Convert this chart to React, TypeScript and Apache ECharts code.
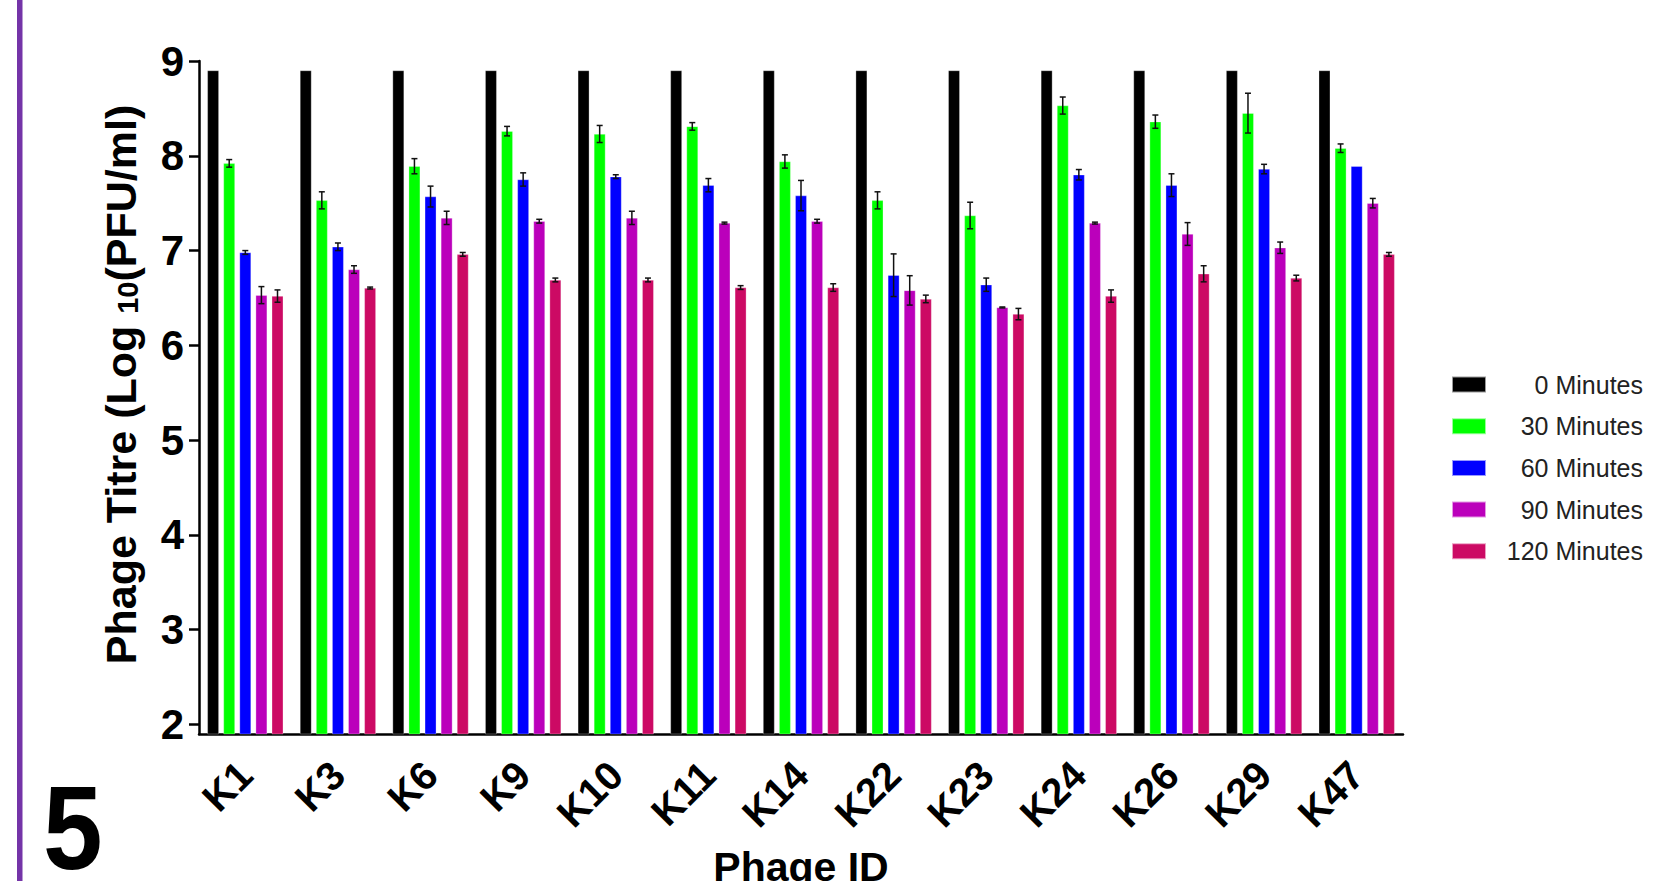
import React, { useEffect, useRef } from "react";
import * as echarts from "echarts";

const categories = ["K1", "K3", "K6", "K9", "K10", "K11", "K14", "K22", "K23", "K24", "K26", "K29", "K47"];
const seriesNames = ["0 Minutes", "30 Minutes", "60 Minutes", "90 Minutes", "120 Minutes"];
const min0 = [8.9, 8.9, 8.9, 8.9, 8.9, 8.9, 8.9, 8.9, 8.9, 8.9, 8.9, 8.9, 8.9];
const min0Err = [0, 0, 0, 0, 0, 0, 0, 0, 0, 0, 0, 0, 0];
const min30 = [7.92, 7.53, 7.89, 8.26, 8.23, 8.31, 7.94, 7.53, 7.37, 8.53, 8.36, 8.45, 8.08];
const min30Err = [0.04, 0.09, 0.08, 0.05, 0.09, 0.04, 0.07, 0.09, 0.14, 0.09, 0.07, 0.21, 0.045];
const min60 = [6.98, 7.04, 7.57, 7.75, 7.78, 7.69, 7.58, 6.74, 6.64, 7.8, 7.69, 7.86, 7.89];
const min60Err = [0.02, 0.04, 0.11, 0.07, 0.02, 0.07, 0.16, 0.225, 0.07, 0.055, 0.12, 0.05, 0];
const min90 = [6.53, 6.8, 7.345, 7.31, 7.345, 7.29, 7.31, 6.58, 6.4, 7.29, 7.175, 7.03, 7.5];
const min90Err = [0.09, 0.04, 0.07, 0.02, 0.07, 0.01, 0.02, 0.155, 0.005, 0.01, 0.12, 0.06, 0.05];
const min120 = [6.52, 6.605, 6.96, 6.69, 6.69, 6.61, 6.61, 6.49, 6.33, 6.52, 6.755, 6.71, 6.96];
const min120Err = [0.065, 0.01, 0.02, 0.02, 0.02, 0.02, 0.04, 0.04, 0.06, 0.065, 0.085, 0.03, 0.02];
const yTicks = [2, 3, 4, 5, 6, 7, 8, 9];
const colors = ["#000000", "#00ff00", "#0000ff", "#bb00bb", "#cc0a64"];

const values = [min0, min30, min60, min90, min120];
const errors = [min0Err, min30Err, min60Err, min90Err, min120Err];

const FONT = "'Liberation Sans', Arial, sans-serif";
const BAR_W = 11.5;
const BAR_GAP = 0.4;

export default function App() {
  const ref = useRef<HTMLDivElement>(null);
  useEffect(() => {
    if (!ref.current) return;
    const chart = echarts.init(ref.current, null, { renderer: "svg" });
    const barSeries = seriesNames.map((name, i) => ({
      name,
      type: "bar",
      data: values[i],
      barWidth: BAR_W,
      barGap: BAR_GAP * 100 + "%",
      itemStyle: { color: colors[i], borderColor: "rgba(255,255,255,0.6)", borderWidth: 0.5 },
      z: 2,
    }));
    const errSeries = seriesNames.map((name, i) => ({
      type: "custom",
      z: 5,
      silent: true,
      data: values[i].map((v, j) => [j, v - errors[i][j], v + errors[i][j], errors[i][j]]),
      encode: { x: 0, y: [1, 2] },
      renderItem: (params: any, api: any) => {
        const e = api.value(3);
        if (!e) return null;
        const lo = api.coord([api.value(0), api.value(1)]);
        const hi = api.coord([api.value(0), api.value(2)]);
        const x = lo[0] + (i - 2) * BAR_W * (1 + BAR_GAP);
        const cap = 3;
        const st = { stroke: "#111", lineWidth: 1.5 };
        return {
          type: "group",
          children: [
            { type: "line", shape: { x1: x, y1: lo[1], x2: x, y2: hi[1] }, style: st },
            { type: "line", shape: { x1: x - cap, y1: lo[1], x2: x + cap, y2: lo[1] }, style: st },
            { type: "line", shape: { x1: x - cap, y1: hi[1], x2: x + cap, y2: hi[1] }, style: st },
          ],
        };
      },
    }));
    chart.setOption({
      animation: false,
      backgroundColor: "#ffffff",
      textStyle: { fontFamily: FONT },
      grid: { left: 199, right: 272, top: 61, bottom: 147, containLabel: false, outerBoundsMode: "none" },
      legend: {
        data: seriesNames,
        orient: "vertical",
        left: 1446,
        top: 367,
        itemWidth: 34,
        itemHeight: 16,
        itemGap: 16.7,
        icon: "rect",
        formatter: (n: string) => `{t|${n}}`,
        textStyle: {
          fontFamily: FONT,
          fontSize: 25,
          color: "#222",
          rich: { t: { width: 152, align: "right", fontSize: 25, lineHeight: 24, color: "#222", fontFamily: FONT } },
        },
      },
      xAxis: {
        type: "category",
        data: categories,
        name: "Phage ID",
        nameLocation: "middle",
        nameGap: 112,
        nameTextStyle: { fontFamily: FONT, fontSize: 41, fontWeight: "bold", color: "#000" },
        axisLine: { lineStyle: { color: "#000", width: 2.5 } },
        axisTick: { alignWithLabel: true, length: 8, lineStyle: { color: "#000", width: 2.5 } },
        axisLabel: { rotate: 45, fontSize: 40, fontWeight: "bold", color: "#000", margin: 34, fontFamily: FONT },
      },
      yAxis: {
        type: "value",
        min: 1.9,
        max: 9,
        name: "Phage Titre (Log {s|10}(PFU/ml)",
        nameLocation: "middle",
        nameRotate: 90,
        nameGap: 57,
        nameTextStyle: {
          fontFamily: FONT,
          fontSize: 43,
          fontWeight: "bold",
          color: "#000",
          padding: [0, 0, 0, 26],
          rich: { s: { fontFamily: FONT, fontSize: 29, fontWeight: "bold", color: "#000", verticalAlign: "bottom", lineHeight: 43 } },
        },
        splitLine: { show: false },
        axisLine: { show: true, lineStyle: { color: "#000", width: 2.5 } },
        axisTick: { show: true, length: 10, customValues: yTicks, lineStyle: { color: "#000", width: 2.5 } },
        axisLabel: { customValues: yTicks, fontSize: 42, fontWeight: "bold", color: "#000", margin: 15, fontFamily: FONT },
      },
      graphic: [
        { type: "rect", left: 17, top: 0, shape: { width: 5.5, height: 881 }, style: { fill: "#7434a8" } },
        {
          type: "text",
          left: 43,
          top: 768,
          scaleX: 0.9,
          style: { text: "5", fontSize: 119, lineHeight: 98, fontWeight: "bold", fill: "#000", fontFamily: FONT },
        },
      ],
      series: [...barSeries, ...errSeries],
    });
    return () => chart.dispose();
  }, []);
  return <div ref={ref} style={{ position: "absolute", left: 0, top: 0, width: 1675, height: 881 }} />;
}
